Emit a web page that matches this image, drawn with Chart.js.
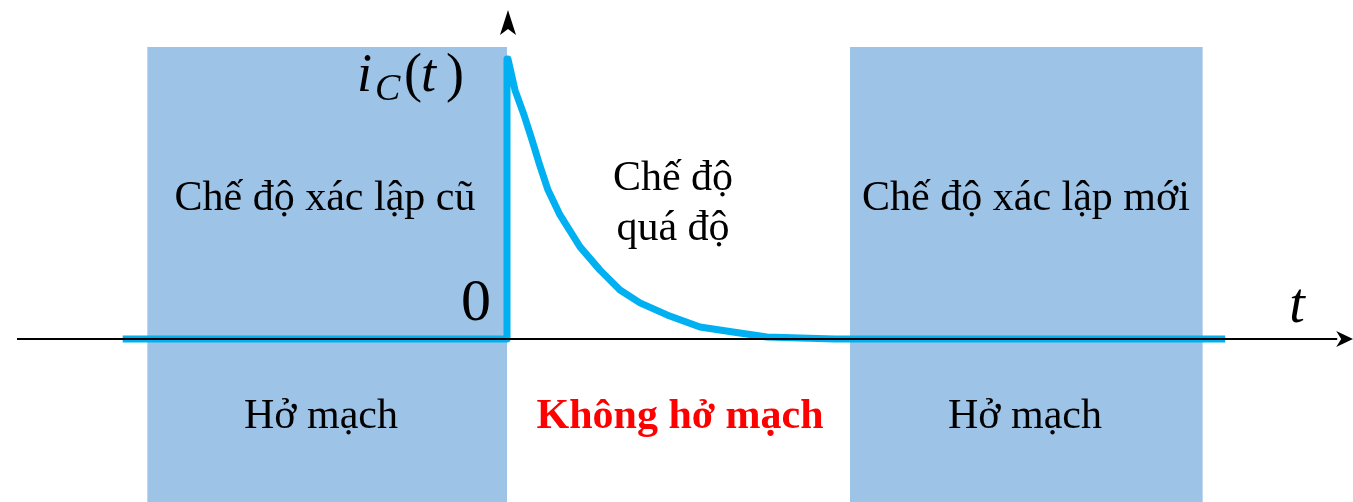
<!DOCTYPE html>
<html>
<head>
<meta charset="utf-8">
<script src="https://cdn.jsdelivr.net/npm/chart.js@4/dist/chart.umd.min.js"></script>
<style>
html,body{margin:0;padding:0;background:#fff;}
#wrap{width:1353px;height:502px;position:relative;}
</style>
</head>
<body>
<div id="wrap"><canvas id="c" width="1353" height="502"></canvas></div>
<script>
// ---- data (time in units of tau, current normalised to peak) ----
const currentT = [-5.49, 0, 0, 0.014, 0.114, 0.243, 0.357, 0.471, 0.586, 0.757, 1.043, 1.329, 1.614, 1.9, 2.286, 2.757, 3.229, 3.714, 4.186, 4.686, 10.26];
const currentI = [0, 0, 1.0, 1.0, 0.889, 0.8, 0.711, 0.618, 0.532, 0.443, 0.329, 0.246, 0.175, 0.129, 0.086, 0.043, 0.025, 0.007, 0.004, 0, 0];
const steadyStart = [-5.14, 4.9];
const steadyEnd = [0, 9.94];
const steadyTop = 1.043;
const axisT = [-7.0, 11.86];
const regionLabels = ['Chế độ xác lập cũ', 'Chế độ', 'quá độ', 'Chế độ xác lập mới'];
const stateLabels = ['Hở mạch', 'Không hở mạch', 'Hở mạch'];

// ---- layout ----
const PX_PER_T = 70, ORIGIN_X = 507, ORIGIN_Y = 339, PX_PER_I = 280, W = 1353, H = 502;
const xMin = -ORIGIN_X / PX_PER_T, xMax = (W - ORIGIN_X) / PX_PER_T;
const yMax = ORIGIN_Y / PX_PER_I, yMin = -(H - ORIGIN_Y) / PX_PER_I;

const SERIF = '"Liberation Serif","Times New Roman",serif';
const BLUE_FILL = '#9DC3E6';
const CURVE = '#00B0F0';

const datasets = [];
steadyStart.forEach((s, k) => {
  datasets.push({
    data: [{x: s, y: steadyTop}, {x: steadyEnd[k], y: steadyTop}],
    fill: {value: yMin - 1},
    backgroundColor: BLUE_FILL,
    borderWidth: 0, pointRadius: 0, order: 3
  });
});
datasets.push({
  data: currentT.map((t, k) => ({x: t, y: currentI[k]})),
  borderColor: CURVE, borderWidth: 7, pointRadius: 0, fill: false,
  borderJoinStyle: 'round', tension: 0, order: 2
});
datasets.push({
  data: axisT.map(t => ({x: t, y: 0})),
  borderColor: '#000', borderWidth: 2, pointRadius: 0, fill: false, order: 1
});

function stealth(ctx, tipX, tipY, dir) {
  ctx.save();
  ctx.fillStyle = '#000';
  ctx.beginPath();
  if (dir === 'right') {
    ctx.moveTo(tipX, tipY);
    ctx.lineTo(tipX - 17, tipY - 8);
    ctx.lineTo(tipX - 12, tipY);
    ctx.lineTo(tipX - 17, tipY + 8);
  } else {
    ctx.moveTo(tipX, tipY);
    ctx.lineTo(tipX + 8, tipY + 25);
    ctx.lineTo(tipX, tipY + 19);
    ctx.lineTo(tipX - 8, tipY + 25);
  }
  ctx.closePath();
  ctx.fill();
  ctx.restore();
}

const overlay = {
  id: 'overlay',
  afterDatasetsDraw(chart) {
    const ctx = chart.ctx;
    const xs = chart.scales.x, ys = chart.scales.y;
    const px = t => xs.getPixelForValue(t), py = v => ys.getPixelForValue(v);
    stealth(ctx, px(axisT[1]) + 16, py(0), 'right');
    stealth(ctx, px(0) + 1, py(yMax) + 10, 'up');

    ctx.save();
    ctx.fillStyle = '#000';
    ctx.textBaseline = 'alphabetic';
    // i_C(t)
    const base = 91;
    ctx.textAlign = 'left';
    ctx.font = 'italic 54px ' + SERIF;
    ctx.fillText('i', 357, base);
    ctx.font = 'italic 38px ' + SERIF;
    ctx.fillText('C', 375, 100);
    ctx.font = '54px ' + SERIF;
    ctx.fillText('(', 404, base);
    ctx.font = 'italic 54px ' + SERIF;
    ctx.fillText('t', 421, base);
    ctx.font = '54px ' + SERIF;
    ctx.fillText(')', 446, base);
    // 0
    ctx.textAlign = 'right';
    ctx.font = '60px ' + SERIF;
    ctx.fillText('0', 491, 320);
    // t axis label
    ctx.textAlign = 'center';
    ctx.font = 'italic 56px ' + SERIF;
    ctx.fillText('t', 1297, 322);
    // region labels
    ctx.font = '42px ' + SERIF;
    ctx.fillText(regionLabels[0], 325, 210);
    ctx.fillText(regionLabels[1], 673, 190);
    ctx.fillText(regionLabels[2], 673, 240);
    ctx.fillText(regionLabels[3], 1026, 210);
    ctx.fillText(stateLabels[0], 321, 428);
    ctx.fillText(stateLabels[2], 1025, 428);
    ctx.fillStyle = '#FF0000';
    ctx.font = 'bold 42px ' + SERIF;
    ctx.fillText(stateLabels[1], 680, 428);
    ctx.restore();
  }
};

new Chart(document.getElementById('c'), {
  type: 'line',
  data: {datasets},
  options: {
    responsive: false,
    animation: false,
    layout: {padding: 0},
    plugins: {legend: {display: false}, tooltip: {enabled: false}},
    scales: {
      x: {type: 'linear', min: xMin, max: xMax, display: false},
      y: {type: 'linear', min: yMin, max: yMax, display: false}
    }
  },
  plugins: [overlay]
});
</script>
</body>
</html>
